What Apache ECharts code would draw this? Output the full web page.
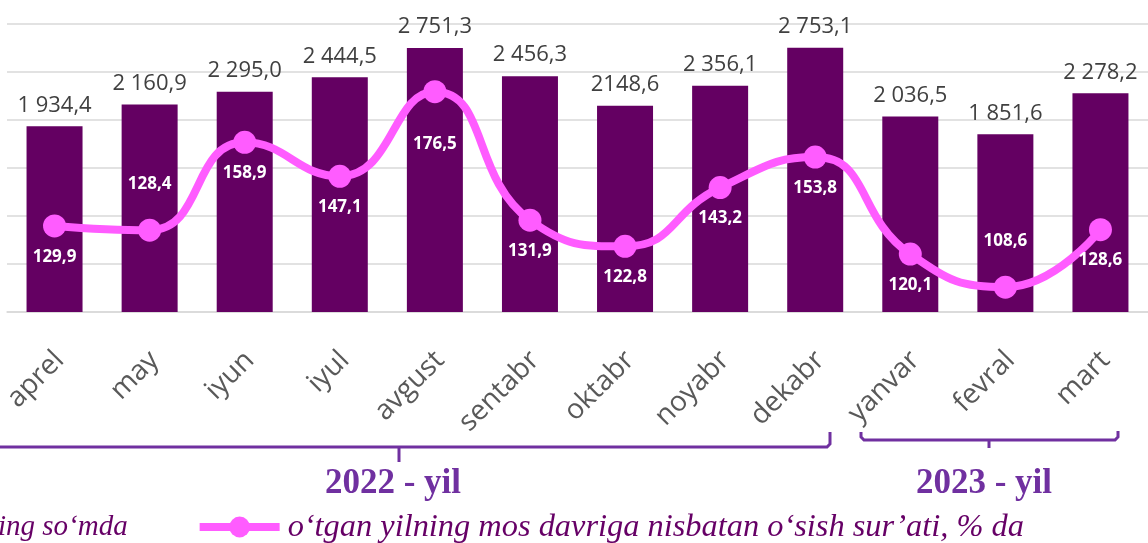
<!DOCTYPE html>
<html>
<head>
<meta charset="utf-8">
<script src="https://cdn.jsdelivr.net/npm/echarts@6/dist/echarts.min.js"></script>
<style>
  html, body { margin: 0; padding: 0; background: #fff; }
  #chart { width: 1148px; height: 543px; }
</style>
</head>
<body>
<div id="chart"></div>
<script>
// oylar (kategoriyalar)
const months = ['aprel', 'may', 'iyun', 'iyul', 'avgust', 'sentabr', 'oktabr', 'noyabr', 'dekabr', 'yanvar', 'fevral', 'mart'];
// ustunlar, ming so'mda
const amount = [1934.4, 2160.9, 2295.0, 2444.5, 2751.3, 2456.3, 2148.6, 2356.1, 2753.1, 2036.5, 1851.6, 2278.2];
const amountText = ['1 934,4', '2 160,9', '2 295,0', '2 444,5', '2 751,3', '2 456,3', '2148,6', '2 356,1', '2 753,1', '2 036,5', '1 851,6', '2 278,2'];
// o'sish sur'ati, %
const growth = [129.9, 128.4, 158.9, 147.1, 176.5, 131.9, 122.8, 143.2, 153.8, 120.1, 108.6, 128.6];
const yearLabels = ['2022 - yil', '2023 - yil'];
const seriesNames = ['ming so‘mda', 'o‘tgan yilning mos davriga nisbatan o‘sish sur’ati, % da'];

const chart = echarts.init(document.getElementById('chart'), null, { renderer: 'canvas' });

const purple = '#7030a0';
const pink = '#ff5cff';
const legendText = { fontFamily: 'Liberation Serif', fontStyle: 'italic', color: '#660066', padding: [0, 0, 0, 3] };

// qaysi nuqtalarda yorliq yuqorida turadi
const growthData = growth.map((v, i) => {
  let label = {};
  if (i === 1 || i === 10) label = { position: 'top', distance: 26 };
  if (i === 4) label = { distance: 32 };
  return { value: v, label: label };
});

const option = {
  animation: false,
  backgroundColor: '#fff',
  grid: { left: 7, right: -5, top: 24, bottom: 231, containLabel: false },
  legend: {
    left: -116,
    top: 506,
    itemGap: 68,
    itemWidth: 80,
    itemHeight: 26,
    data: [
      { name: seriesNames[0], textStyle: Object.assign({ fontSize: 29 }, legendText) },
      { name: seriesNames[1], textStyle: Object.assign({ fontSize: 32.4 }, legendText), lineStyle: { width: 8 } }
    ]
  },
  xAxis: {
    type: 'category',
    data: months,
    axisTick: { show: false },
    axisLine: { lineStyle: { color: '#d9d9d9', width: 1.5 } },
    axisLabel: {
      rotate: 45,
      margin: 29,
      verticalAlign: 'top',
      padding: [0, 7, 0, 0],
      fontSize: 28,
      fontFamily: 'Open Sans',
      color: '#595959'
    }
  },
  yAxis: [
    {
      type: 'value',
      min: 0,
      max: 3000,
      interval: 500,
      axisLabel: { show: false },
      axisLine: { show: false },
      axisTick: { show: false },
      splitLine: { lineStyle: { color: '#d9d9d9', width: 1.5 } }
    },
    {
      type: 'value',
      min: 100,
      max: 200,
      show: false,
      splitLine: { show: false }
    }
  ],
  series: [
    {
      name: seriesNames[0],
      type: 'bar',
      data: amount,
      barWidth: 56,
      itemStyle: { color: '#640062' },
      label: {
        show: true,
        position: 'top',
        distance: 10,
        fontFamily: 'Open Sans',
        fontSize: 22,
        color: '#404040',
        formatter: p => amountText[p.dataIndex]
      }
    },
    {
      name: seriesNames[1],
      type: 'line',
      yAxisIndex: 1,
      data: growthData,
      smooth: true,
      symbol: 'circle',
      symbolSize: 23,
      z: 5,
      itemStyle: { color: pink },
      lineStyle: { color: pink, width: 8 },
      label: {
        show: true,
        position: 'bottom',
        distance: 11,
        fontFamily: 'Open Sans',
        fontWeight: 'bold',
        fontSize: 17,
        color: '#fff',
        formatter: p => p.value.toFixed(1).replace('.', ',')
      }
    }
  ],
  graphic: [
    // 2022 qavs
    { type: 'polyline', shape: { points: [[-40, 447], [827, 447], [830, 444], [830, 432]] }, style: { stroke: purple, lineWidth: 3, fill: null } },
    { type: 'line', shape: { x1: 399, y1: 447, x2: 399, y2: 462 }, style: { stroke: purple, lineWidth: 3 } },
    // 2023 qavs
    { type: 'polyline', shape: { points: [[861, 432], [861, 437], [864, 440], [1115, 440], [1118, 437], [1118, 431]] }, style: { stroke: purple, lineWidth: 3, fill: null } },
    { type: 'line', shape: { x1: 989, y1: 440, x2: 989, y2: 448 }, style: { stroke: purple, lineWidth: 3 } },
    {
      type: 'text', x: 393, y: 484,
      style: { text: yearLabels[0], fill: purple, font: 'bold 35px "Liberation Serif"', textAlign: 'center', textVerticalAlign: 'middle' }
    },
    {
      type: 'text', x: 984, y: 484,
      style: { text: yearLabels[1], fill: purple, font: 'bold 35px "Liberation Serif"', textAlign: 'center', textVerticalAlign: 'middle' }
    }
  ]
};

chart.setOption(option);
</script>
</body>
</html>
